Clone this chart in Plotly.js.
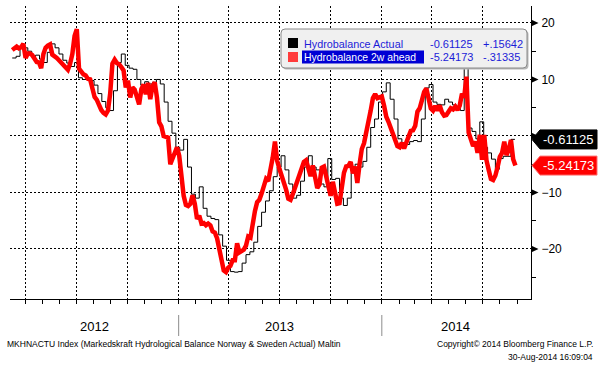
<!DOCTYPE html>
<html><head><meta charset="utf-8">
<script src="https://cdn.plot.ly/plotly-3.0.1.min.js"></script>
<style>html,body{margin:0;padding:0;background:#fff;}#chart{width:600px;height:368px;}</style>
</head><body><div id="chart"></div>
<script>
// ---- data ----
const AHEAD_START = '2012-03-08', AHEAD_STEP_DAYS = 4;
const ACTUAL_START = '2012-03-08', ACTUAL_STEP_DAYS = 7;

const aheadValues = [
 15.2, 15.5, 15.8, 15.5, 15.7, 16.3, 13.8, 14.6, 14.6, 14.3,
 13.7, 13.1, 13.0, 12.0, 14.5, 15.6, 16.0, 16.2, 14.4, 14.2,
 13.8, 13.4, 13.0, 12.6, 12.1, 11.7, 12.8, 14.5, 17.7, 18.9,
 11.9, 11.2, 10.9, 10.7, 10.1, 10.0, 8.6, 6.9, 6.4, 5.4,
 4.6, 4.1, 3.8, 4.5, 7.5, 12.8, 13.5, 12.9, 12.7, 12.2,
 11.6, 8.6, 9.8, 6.8, 8.6, 8.2, 6.5, 5.6, 8.3, 9.1,
 7.4, 9.4, 6.5, 8.8, 9.5, 6.8, 2.4, 1.7, 0.0, -0.1,
 -0.3, -5.0, -4.0, -2.6, -2.0, -3.5, -8.2, -10.6, -12.2, -12.4,
 -12.0, -10.5, -12.0, -14.7, -14.1, -15.5, -15.4, -15.8, -15.5, -15.8,
 -16.9, -17.1, -18.1, -20.1, -21.5, -23.8, -24.1, -23.3, -23.0, -22.0,
 -22.0, -19.0, -20.6, -20.3, -20.1, -19.4, -17.8, -18.0, -15.2, -13.3,
 -11.7, -11.3, -10.2, -9.0, -7.6, -8.0, -6.3, -3.8, -1.0, -4.4,
 -5.8, -7.0, -7.9, -9.5, -11.1, -11.3, -10.3, -9.1, -7.6, -6.8,
 -5.7, -4.6, -4.3, -5.9, -7.1, -5.2, -7.2, -9.2, -8.6, -5.6,
 -5.4, -7.1, -9.5, -10.6, -8.1, -10.6, -12.0, -11.9, -9.5, -6.5,
 -5.4, -5.3, -4.6, -6.6, -5.4, -8.3, -5.0, -2.3, -1.3, 1.0,
 3.0, 4.5, 6.7, 7.4, 6.7, 6.8, 7.0, 5.4, 3.4, 2.5,
 1.4, 0.1, -1.1, -1.8, -2.0, -1.2, -2.2, -1.3, -0.1, 0.9,
 1.0, 1.8, 4.3, 4.9, 6.3, 7.8, 8.4, 6.2, 4.9, 4.5,
 5.3, 4.5, 5.4, 4.2, 3.6, 3.7, 4.4, 4.9, 4.7, 5.2,
 4.6, 5.4, 7.5, 6.8, 10.5, 0.6, -0.6, -1.8, -1.0, -3.0,
 0.2, -4.2, 0.2, -4.3, -6.0, -7.6, -7.8, -7.0, -5.5, -3.7,
 -3.0, -1.0, -3.4, -2.4, -0.7, -4.1, -5.24173
];

const actualValues = [
 13.8, 14.1, 15.5, 15.6, 15.0, 14.0, 14.3, 13.6, 13.0, 14.8,
 16.3, 15.6, 14.5, 13.4, 12.9, 12.3, 13.0, 10.3, 10.0, 10.3,
 9.8, 9.0, 7.5, 6.1, 5.0, 4.5, 8.0, 13.0, 14.5, 12.5,
 12.0, 11.8, 10.0, 9.0, 9.6, 9.2, 9.5, 10.0, 9.2, 6.0,
 2.6, 0.5, -2.0, -2.5, -0.6, -5.5, -10.3, -11.0, -9.0, -12.8,
 -14.2, -14.6, -14.8, -17.5, -19.5, -22.0, -24.0, -24.1, -24.0, -22.5,
 -21.0, -20.5, -18.8, -16.0, -13.5, -11.5, -9.7, -7.2, -5.5, -3.5,
 -6.0, -8.5, -11.0, -10.5, -8.0, -5.5, -3.5, -5.5, -6.0, -8.5,
 -9.0, -4.0, -7.7, -7.5, -11.0, -12.3, -11.0, -6.5, -5.0, -5.5,
 -4.5, -2.0, 1.5, 3.0, 6.0, 7.8, 9.4, 6.5, 3.0, -0.5,
 -1.5, -1.5, -1.0, -0.8, -1.0, 3.0, 8.5, 9.1, 6.0, 5.6,
 5.5, 6.5, 6.0, 5.5, 5.0, 4.5, 14.0, 1.4, 0.8, -0.5,
 2.5, -2.0, -3.0, -4.1, -5.9, -4.0, -3.6, -3.6, -0.6, -0.61125
];

const seriesNames = ['Hydrobalance Actual', 'Hydrobalance 2w ahead'];
const lastValueText = ['-0.61125', '-5.24173'];
const changeText = ['+.15642', '-.31335'];
const yTickValues = [20, 10, 0, -10, -20];
const yTickText = ['20', '10', '', '\u221210', '\u221220'];
const yearLabels = ['2012', '2013', '2014'];
const yearLabelDates = ['2012-08-03', '2013-07-02', '2014-05-14'];
const yearBoundaries = ['2013-01-01', '2014-01-01'];
const footLeft = 'MKHNACTU Index (Markedskraft Hydrological Balance Norway & Sweden Actual) Maltin';
const footRight1 = 'Copyright\u00a9 2014 Bloomberg Finance L.P.';
const footRight2 = '30-Aug-2014 16:09:04';

// ---- helpers ----
function dateSeq(start, n, step) {
  const t0 = Date.parse(start + 'T00:00:00Z');
  return Array.from({length: n}, (_, i) => new Date(t0 + i * step * 86400000).toISOString().slice(0, 10));
}
const W = 600, H = 368, ML = 10, MR = 69, MT = 6, MB = 69;
const PW = W - ML - MR, PH = H - MT - MB;
const YMIN = -28.85, YMAX = 23.0;
const yPerPx = (YMAX - YMIN) / PH;
const px = x => (x - ML) / PW;
const py = y => (H - MB - y) / PH;
const FONT = 'Liberation Sans, Arial, sans-serif';

const lastActual = actualValues[actualValues.length - 1];
const lastAhead = aheadValues[aheadValues.length - 1];

const traces = [
  {x: dateSeq(ACTUAL_START, actualValues.length, ACTUAL_STEP_DAYS), y: actualValues, type: 'scatter', mode: 'lines',
   line: {color: '#000000', width: 1, shape: 'hv'}, name: seriesNames[0], hoverinfo: 'skip'},
  {x: dateSeq(AHEAD_START, aheadValues.length, AHEAD_STEP_DAYS), y: aheadValues, type: 'scatter', mode: 'lines',
   line: {color: '#ff0000', width: 4.5}, name: seriesNames[1], hoverinfo: 'skip'}
];

function roundRect(x0, y0, x1, y1, r) {
  const rx = r / PW, ry = r / PH;
  const X0 = px(x0), X1 = px(x1), Y0 = py(y0), Y1 = py(y1);
  return `M ${X0 + rx},${Y0} L ${X1 - rx},${Y0} Q ${X1},${Y0} ${X1},${Y0 - ry} L ${X1},${Y1 + ry} Q ${X1},${Y1} ${X1 - rx},${Y1} L ${X0 + rx},${Y1} Q ${X0},${Y1} ${X0},${Y1 + ry} L ${X0},${Y0 - ry} Q ${X0},${Y0} ${X0 + rx},${Y0} Z`;
}
function pRect(x0, y0, x1, y1, fill, line) {
  return {type: 'rect', xref: 'paper', yref: 'paper', x0: px(x0), x1: px(x1), y0: py(y1), y1: py(y0),
          fillcolor: fill, line: {color: line || fill, width: line ? 1 : 0}, layer: 'above'};
}

const shapes = [];
shapes.push({type: 'path', xref: 'paper', yref: 'paper', path: roundRect(282.5, 30.5, 528.5, 69.5, 4), fillcolor: '#b8b8b8', line: {width: 0}, layer: 'above'});
shapes.push({type: 'path', xref: 'paper', yref: 'paper', path: roundRect(281, 29, 527, 68, 4), fillcolor: '#f0f0f0', line: {color: '#8a8a8a', width: 1}, layer: 'above'});
shapes.push(pRect(288, 38, 298, 48, '#000000'));
shapes.push(pRect(288, 52, 298, 62, '#ff3b3b'));
shapes.push(pRect(302, 50.5, 424, 63.5, '#0000d4'));

yTickValues.forEach(v => {
  const h = 3.2 * yPerPx;
  shapes.push({type: 'path', xref: 'paper', yref: 'y', layer: 'above',
    path: `M ${px(531.5)},${v + h} L ${px(538.5)},${v} L ${px(531.5)},${v - h} Z`,
    fillcolor: '#000000', line: {width: 0}});
});

function tag(v, fill, border) {
  const h = 9.5 * yPerPx;
  return {type: 'path', xref: 'paper', yref: 'y', layer: 'above',
    path: `M ${px(532)},${v} L ${px(540)},${v + h} L ${px(597)},${v + h} L ${px(597)},${v - h} L ${px(540)},${v - h} Z`,
    fillcolor: fill, line: {color: border, width: 1}};
}
shapes.push(tag(lastActual, '#000000', '#000000'));
shapes.push(tag(lastAhead, '#ff0000', '#ff7070'));

yearBoundaries.forEach(d => {
  shapes.push({type: 'line', xref: 'x', yref: 'paper', x0: d, x1: d, y0: py(315), y1: py(336),
    line: {color: '#8c8c8c', width: 1}, layer: 'above'});
});

const annotations = [];
function ann(text, x, y, o) {
  annotations.push(Object.assign({text: text, xref: 'paper', yref: 'paper', x: px(x), y: py(y),
    xanchor: 'left', yanchor: 'middle', showarrow: false, font: {family: FONT, size: 11, color: '#1c1cd8'}}, o || {}));
}
ann(seriesNames[0], 302, 43.5, {font: {family: FONT, size: 10.8, color: '#1c1cd8'}});
ann(seriesNames[1], 302, 57.5, {font: {family: FONT, size: 10.4, color: '#ffffff'}});
ann(lastValueText[0], 428, 43.5);
ann(lastValueText[1], 428, 57.5);
ann(changeText[0], 481, 43.5);
ann(changeText[1], 481, 57.5);

[[lastActual, lastValueText[0]], [lastAhead, lastValueText[1]]].forEach(([v, t]) => {
  annotations.push({text: t, xref: 'paper', yref: 'y', x: px(568), y: v, xanchor: 'center', yanchor: 'middle',
    showarrow: false, font: {family: FONT, size: 13, color: '#ffffff'}});
});

yearLabels.forEach((t, i) => {
  annotations.push({text: t, xref: 'x', yref: 'paper', x: yearLabelDates[i], y: py(326), xanchor: 'center', yanchor: 'middle',
    showarrow: false, font: {family: FONT, size: 13, color: '#000000'}});
});

ann(footLeft, 5, 343.5, {font: {family: FONT, size: 8.5, color: '#000000'}});
ann(footRight1, 595, 343.5, {xanchor: 'right', font: {family: FONT, size: 8.5, color: '#000000'}});
ann(footRight2, 595, 357, {xanchor: 'right', font: {family: FONT, size: 8.5, color: '#000000'}});

const layout = {
  width: W, height: H,
  margin: {l: ML, r: MR, t: MT, b: MB, pad: 0},
  paper_bgcolor: '#ffffff', plot_bgcolor: '#ffffff',
  showlegend: false,
  xaxis: {
    type: 'date', range: ['2012-03-04', '2014-09-26'], fixedrange: true,
    showline: true, linecolor: '#000000', linewidth: 1,
    ticks: 'outside', ticklen: 4, tickcolor: '#000000', tickwidth: 1,
    dtick: 'M3', tick0: '2012-01-01',
    showgrid: true, gridcolor: '#000000', gridwidth: 1, griddash: '2px,2px',
    showticklabels: false, zeroline: false,
    minor: {dtick: 'M1', tick0: '2012-01-01', ticks: 'outside', ticklen: 4, tickcolor: '#000000', showgrid: false}
  },
  yaxis: {
    side: 'right', range: [YMIN, YMAX], fixedrange: true,
    showline: true, linecolor: '#000000', linewidth: 1,
    tickmode: 'array', tickvals: yTickValues, ticktext: yTickText,
    ticks: 'outside', ticklen: 7, tickcolor: 'rgba(0,0,0,0)',
    showgrid: true, gridcolor: '#000000', gridwidth: 1, griddash: '2px,2px',
    zeroline: false,
    tickfont: {family: FONT, size: 12, color: '#000000'},
    minor: {tickmode: 'linear', tick0: 0, dtick: 5, ticks: 'outside', ticklen: 4, tickcolor: '#000000', showgrid: false}
  },
  shapes: shapes,
  annotations: annotations
};

Plotly.newPlot('chart', traces, layout, {staticPlot: true, displayModeBar: false});
</script>
</body></html>
